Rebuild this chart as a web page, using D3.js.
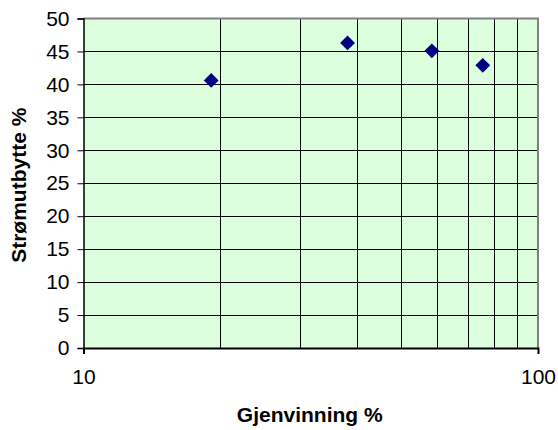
<!DOCTYPE html>
<html>
<head>
<meta charset="utf-8">
<script src="https://cdn.jsdelivr.net/npm/d3@7"></script>
<style>
  html, body { margin: 0; padding: 0; background: #fff; }
  svg { display: block; font-family: Arial, "Liberation Sans", sans-serif; }
</style>
</head>
<body>
<svg id="chart" width="558" height="430"></svg>
<script>
// Recovery (x, log scale) vs. current yield (y)
const gjenvinning = [19.1, 38.1, 58.4, 75.6];
const stromutbytte = [40.6, 46.3, 45.1, 42.9];
const yTicks = [0, 5, 10, 15, 20, 25, 30, 35, 40, 45, 50];
const xTickLabels = [10, 100];
const xGrid = [20, 30, 40, 50, 60, 70, 80, 90];

const svg = d3.select("#chart");
const plot = { left: 83.5, top: 18.5, right: 538, bottom: 348 };
const fontSize = 21;

const x = d3.scaleLog().domain([10, 100]).range([plot.left, plot.right]);
const y = d3.scaleLinear().domain([0, 50]).range([plot.bottom, plot.top]);

// plot background
svg.append("rect")
  .attr("x", plot.left).attr("y", plot.top)
  .attr("width", plot.right - plot.left).attr("height", plot.bottom - plot.top)
  .attr("fill", "#ddfedd");

// horizontal gridlines
svg.append("g").selectAll("line").data(yTicks.filter(d => d > 0 && d < 50)).join("line")
  .attr("x1", plot.left).attr("x2", plot.right)
  .attr("y1", d => Math.round(y(d)) + 0.5).attr("y2", d => Math.round(y(d)) + 0.5)
  .attr("stroke", "#000").attr("stroke-width", 1);

// vertical gridlines
svg.append("g").selectAll("line").data(xGrid).join("line")
  .attr("x1", d => Math.round(x(d)) + 0.5).attr("x2", d => Math.round(x(d)) + 0.5)
  .attr("y1", plot.top).attr("y2", plot.bottom)
  .attr("stroke", "#000").attr("stroke-width", 1);

// plot frame: grey top/right
svg.append("path")
  .attr("d", `M${plot.left},${plot.top}H${plot.right}V${plot.bottom}`)
  .attr("fill", "none").attr("stroke", "#808080").attr("stroke-width", 2);

// y axis
const yAxis = d3.axisLeft(y).tickValues(yTicks).tickSize(6).tickPadding(8);
const gy = svg.append("g").attr("transform", `translate(${plot.left},0)`).call(yAxis);
gy.select(".domain").attr("stroke", "#000").attr("stroke-width", 1.5);
gy.selectAll(".tick line").attr("stroke", "#000");
gy.selectAll(".tick text").attr("font-size", fontSize).attr("fill", "#000")
  .attr("font-family", "Arial, 'Liberation Sans', sans-serif");

// x axis
const xAxis = d3.axisBottom(x).tickValues(xTickLabels).tickFormat(d3.format("d")).tickSize(6).tickPadding(15);
const gx = svg.append("g").attr("transform", `translate(0,${plot.bottom})`).call(xAxis);
gx.select(".domain").attr("stroke", "#000").attr("stroke-width", 2);
gx.selectAll(".tick line").attr("stroke", "#000");
gx.selectAll(".tick text").attr("font-size", fontSize).attr("fill", "#000")
  .attr("font-family", "Arial, 'Liberation Sans', sans-serif");

// data markers
const diamond = d3.symbol().type(d3.symbolDiamond2).size(140);
svg.append("g").selectAll("path").data(gjenvinning.map((v, i) => [v, stromutbytte[i]])).join("path")
  .attr("d", diamond)
  .attr("transform", d => `translate(${x(d[0])},${y(d[1])})`)
  .attr("fill", "#000080");

// axis titles
svg.append("text")
  .attr("x", (plot.left + plot.right) / 2 - 1).attr("y", 422)
  .attr("text-anchor", "middle").attr("font-weight", "bold").attr("font-size", fontSize)
  .text("Gjenvinning %");

svg.append("text")
  .attr("transform", `translate(26,${(plot.top + plot.bottom) / 2 + 2}) rotate(-90)`)
  .attr("text-anchor", "middle").attr("font-weight", "bold").attr("font-size", fontSize)
  .text("Strømutbytte %");
</script>
</body>
</html>
